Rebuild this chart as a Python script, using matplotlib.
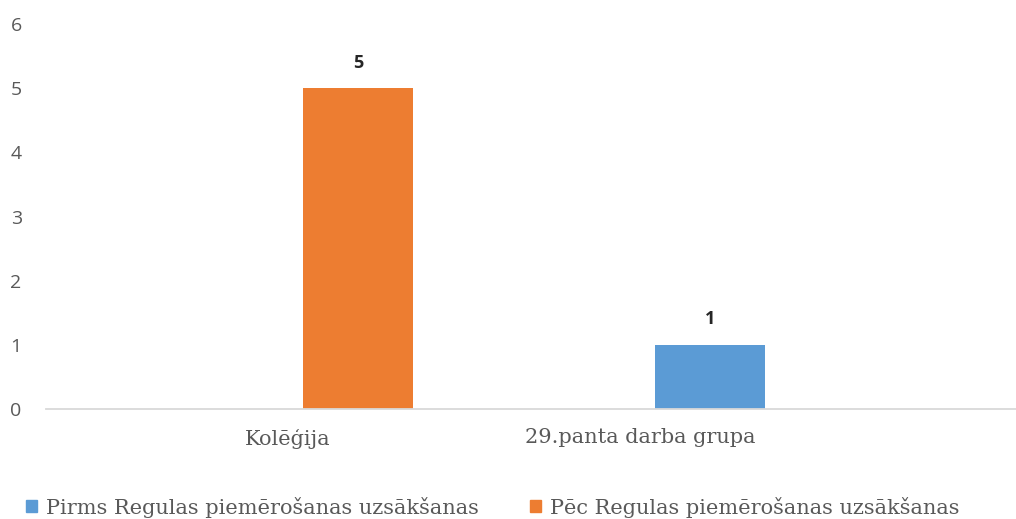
import matplotlib
matplotlib.use("Agg")
import matplotlib.pyplot as plt
from matplotlib.patches import Patch
import numpy as np

categories = ["Kolēģija", "29.panta darba grupa"]
series_names = ["Pirms Regulas piemērošanas uzsākšanas", "Pēc Regulas piemērošanas uzsākšanas"]
before_vals = [0, 1]
after_vals = [5, 0]
y_ticks = [0, 1, 2, 3, 4, 5, 6]

blue = "#5B9BD5"
orange = "#ED7D31"
gray_text = "#595959"

W, H = 1016, 519
fig = plt.figure(figsize=(W / 100, H / 100), dpi=100)
ax = fig.add_axes([46 / W, (H - 409) / H, (W - 46) / W, 385 / H])

x = np.arange(len(categories))
bar_w = 0.3125
offset = 0.2
b1 = ax.bar(x + offset, before_vals, width=bar_w, color=blue, zorder=2)
b2 = ax.bar(x + offset, after_vals, width=bar_w, color=orange, zorder=2)

lab_kw = dict(padding=12, fontsize=13, fontweight="bold", color="#262626", family="Open Sans")
ax.bar_label(b1, labels=[str(v) if v else "" for v in before_vals], **lab_kw)
ax.bar_label(b2, labels=[str(v) if v else "" for v in after_vals], **lab_kw)

ax.set_ylim(0, 6)
ax.set_xlim((46 - 288) / 352, (W - 288) / 352)
ax.set_yticks(y_ticks)
ax.set_yticklabels([str(t) for t in y_ticks], family="Open Sans", fontsize=14, color=gray_text)
ax.set_xticks(x)
ax.set_xticklabels(categories, family="DejaVu Serif", fontsize=15, color=gray_text)
ax.tick_params(axis="y", length=0, pad=17.5)
ax.tick_params(axis="x", length=0, pad=14)
for s in ["top", "right", "left"]:
    ax.spines[s].set_visible(False)
ax.spines["bottom"].set_color("#D9D9D9")
ax.spines["bottom"].set_linewidth(1.3)

handles = [Patch(color=blue), Patch(color=orange)]
fig.legend(handles, series_names, loc="center left", bbox_to_anchor=(26 / W, (H - 507) / H),
           ncol=2, frameon=False, borderpad=0, borderaxespad=0,
           prop={"family": "DejaVu Serif", "size": 15},
           labelcolor=gray_text, handlelength=0.52, handleheight=0.52,
           handletextpad=0.45, columnspacing=2.45)

fig.savefig("out.png", dpi=100)
